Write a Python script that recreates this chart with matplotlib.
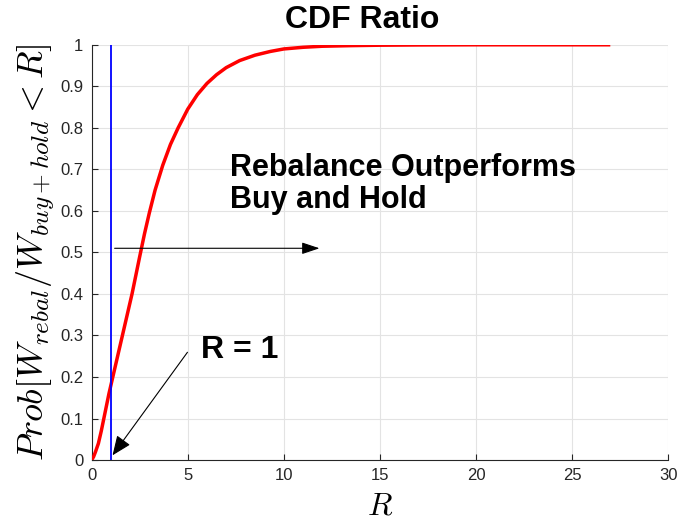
import matplotlib
matplotlib.use('Agg')
import matplotlib.pyplot as plt

plt.rcParams['font.family'] = ['Liberation Sans', 'DejaVu Sans']
plt.rcParams['mathtext.fontset'] = 'cm'

# values
r_vals = [0, 0.1, 0.2, 0.35, 0.5, 0.7, 0.9, 1.1, 1.35, 1.6, 1.85, 2.1, 2.3, 2.5,
          2.75, 3.0, 3.3, 3.7, 4.1, 4.5, 5.0, 5.5, 6.0, 6.5, 7.0, 7.7, 8.5, 9.3,
          10.0, 11.0, 12.0, 13.5, 15.0, 17.0, 20.0, 23.0, 26.9]
p_vals = [0, 0.008, 0.02, 0.04, 0.07, 0.115, 0.16, 0.2, 0.25, 0.3, 0.35, 0.4, 0.445, 0.49,
          0.545, 0.595, 0.65, 0.71, 0.76, 0.80, 0.845, 0.88, 0.907, 0.928, 0.945, 0.962, 0.975, 0.984,
          0.99, 0.994, 0.9965, 0.998, 0.999, 0.9996, 1.0, 1.0, 1.0]
r_line = 1.0

fig = plt.figure(figsize=(6.79, 5.27), dpi=100)
ax = fig.add_axes([0.135, 0.127, 0.849, 0.788])

ax.plot(r_vals, p_vals, color='red', lw=2.5, zorder=3, solid_joinstyle='round')
ax.plot([r_line, r_line], [0, 1], color='blue', lw=1.3, zorder=3)

ax.set_xlim(0, 30)
ax.set_ylim(0, 1)
ax.set_xticks(range(0, 31, 5))
ax.set_yticks([i / 10 for i in range(11)])
ax.set_yticklabels(['0', '0.1', '0.2', '0.3', '0.4', '0.5', '0.6', '0.7', '0.8', '0.9', '1'])
ax.grid(True, color='#e3e3e3', lw=0.8)
ax.set_axisbelow(True)
for s in ['top', 'right']:
    ax.spines[s].set_visible(False)
for s in ['left', 'bottom']:
    ax.spines[s].set_color('#262626')
    ax.spines[s].set_linewidth(0.8)
ax.tick_params(direction='in', length=4, colors='#262626', labelsize=12, pad=6)

ax.set_xlabel('$R$', fontsize=23, labelpad=6)
ax.set_ylabel(r'$Prob[W_{rebal}/W_{buy+hold}<R]$', fontsize=26, labelpad=2)
fig.text(0.533, 0.962, 'CDF Ratio', fontsize=23, fontweight='bold', ha='center', va='center')

ax.text(7.2, 0.665, 'Rebalance Outperforms\nBuy and Hold', fontsize=22, fontweight='bold',
        va='center', ha='left', linespacing=1.1)
ax.annotate('', xy=(12.0, 0.51), xytext=(1.05, 0.51),
            arrowprops=dict(arrowstyle='-|>,head_length=0.6,head_width=0.2', color='black',
                            lw=0.8, mutation_scale=18))
ax.text(5.7, 0.265, 'R = 1', fontsize=23, fontweight='bold', va='center', ha='left')
ax.annotate('', xy=(1.0, 0.006), xytext=(5.07, 0.265),
            arrowprops=dict(arrowstyle='-|>,head_length=0.6,head_width=0.25', color='black',
                            lw=0.8, mutation_scale=20))

fig.savefig('out.png', dpi=100)
